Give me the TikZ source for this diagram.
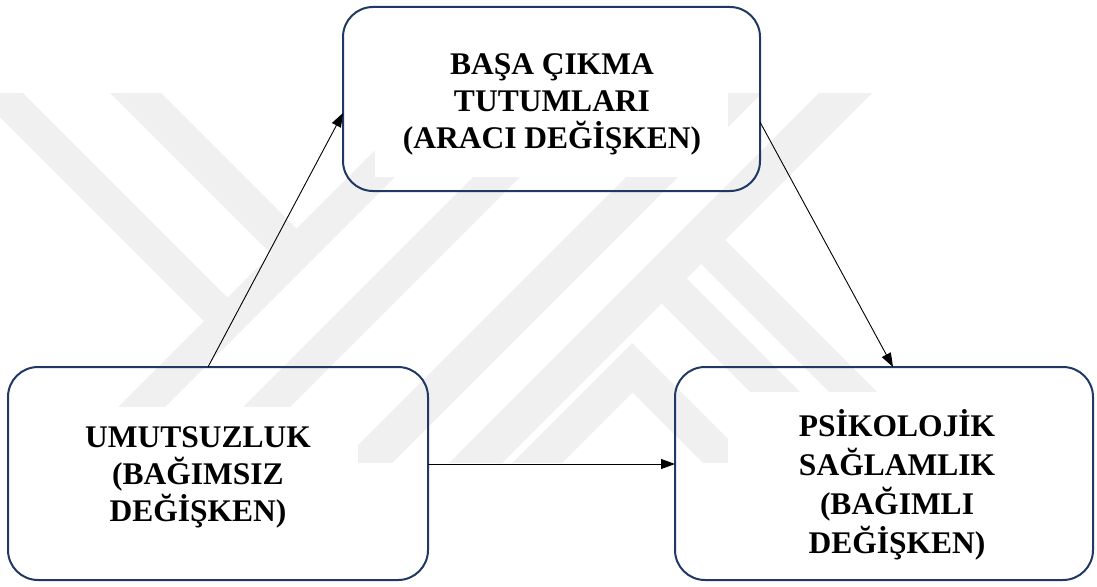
\documentclass[tikz,border=0pt]{standalone}
\usepackage{fontspec}
\setmainfont{Liberation Serif}
\usetikzlibrary{arrows.meta}
\definecolor{boxline}{RGB}{31,56,100}
\definecolor{wmgray}{RGB}{240,240,240}
\tikzset{
  panel/.style={draw=boxline, line width=2pt, rounded corners=30pt, inner sep=0pt, outer sep=0pt},
  label/.style={font=\fontsize{31.5}{37}\selectfont\bfseries, align=center, inner sep=0pt},
  link/.style={draw=black, line width=0.9pt, -{Triangle[length=14pt,width=10pt]}},
  band/.style={fill=wmgray}
}
\begin{document}
\begin{tikzpicture}[x=1pt,y=-1pt]
\useasboundingbox (0,0) rectangle (1097,586);

% faint background logo made of slanted bands
\begin{scope}
  \clip (0,0) rectangle (1097,586);
  % Y: two short strokes joining the long rising stroke
  \fill[band] (-24,93) -- (23,93) -- (230,300) -- (206.5,323.5) -- cycle;
  \fill[band] (110,93) -- (161,93) -- (299,231) -- (273.5,256.5) -- cycle;
  % long rising strokes
  \fill[band] (432,93) -- (479,93) -- (109,463) -- (62,463) -- cycle;
  \fill[band] (557,93) -- (604,93) -- (234,463) -- (187,463) -- cycle;
  \fill[band] (710,93) -- (762,93) -- (392,463) -- (340,463) -- cycle;
  \fill[band] (819,93) -- (872,93) -- (502,463) -- (449,463) -- cycle;
  % K: legs and the inverted V
  \fill[band] (722.5,237.5) -- (948,463) -- (900,463) -- (698.5,261.5) -- cycle;
  \fill[band] (684,276) -- (871,463) -- (821,463) -- (659,301) -- cycle;
  \fill[band] (512,463) -- (632,343) -- (752,463) -- (703,463) -- (632.5,392.5) -- (562,463) -- cycle;
\end{scope}

% white text backgrounds
\fill[white] (375,30) rectangle (728,177);
\fill[white] (38,407) rectangle (358,547);
\fill[white] (728,392) rectangle (1066,577);

% boxes
\node[panel, minimum width=417pt, minimum height=184pt] (T) at (551.5,99) {};
\node[panel, minimum width=420pt, minimum height=213pt] (L) at (218,473.5) {};
\node[panel, minimum width=418pt, minimum height=213pt] (R) at (884,473.5) {};

% texts
\node[label] (Tt) at (552,104) {BAŞA ÇIKMA\\TUTUMLARI\\(ARACI DEĞİŞKEN)};
\node[label] (Lt) at (198,477) {UMUTSUZLUK\\(BAĞIMSIZ\\DEĞİŞKEN)};
\node[label, font=\fontsize{31.5}{39}\selectfont\bfseries] (Rt) at (897,484.5)
  {PSİKOLOJİK\\SAĞLAMLIK\\(BAĞIMLI\\DEĞİŞKEN)};

% connectors
\draw[link] ([xshift=-10pt]L.north) -- ([yshift=-14pt]T.west);
\draw[link] ([yshift=-23pt]T.east) -- ([xshift=9pt]R.north);
\draw[link] ([yshift=9.5pt]L.east) -- ([yshift=9.5pt]R.west);
\end{tikzpicture}
\end{document}
